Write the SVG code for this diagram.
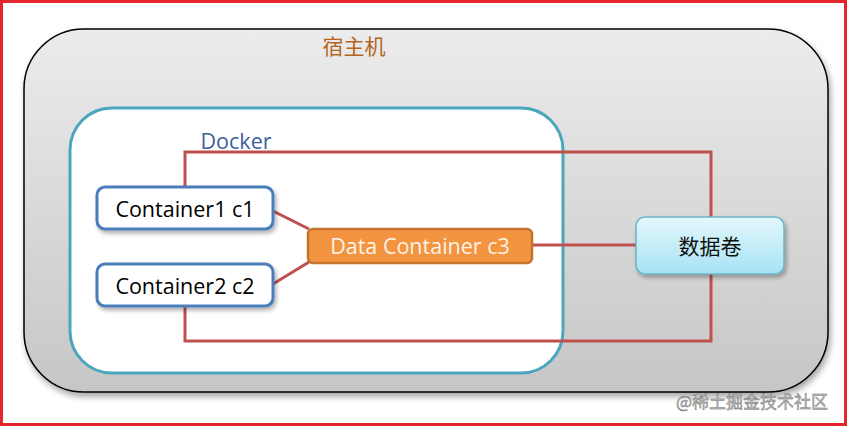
<svg xmlns="http://www.w3.org/2000/svg" width="847" height="426" viewBox="0 0 847 426">
<defs>
<linearGradient id="hostGrad" x1="0" y1="0" x2="0" y2="1">
<stop offset="0" stop-color="#ececec"/>
<stop offset="1" stop-color="#c6c6c6"/>
</linearGradient>
<linearGradient id="volGrad" x1="0" y1="0" x2="0" y2="1">
<stop offset="0" stop-color="#e4f8fc"/>
<stop offset="1" stop-color="#a6e2f3"/>
</linearGradient>
<filter id="sh" x="-20%" y="-20%" width="140%" height="150%">
<feDropShadow dx="2" dy="3" stdDeviation="2" flood-color="#000" flood-opacity="0.3"/>
</filter>
<filter id="shBig" x="-5%" y="-5%" width="110%" height="115%">
<feDropShadow dx="2" dy="4" stdDeviation="3" flood-color="#000" flood-opacity="0.35"/>
</filter>
</defs>
<style>
text{font-family:"Open Sans","Noto Sans","Noto Sans CJK SC",sans-serif;font-size:21.5px;text-anchor:middle;dominant-baseline:central}
.cn{font-family:"Noto Sans CJK SC",sans-serif;font-size:21px}
.box{fill:#fff;stroke:#4a7ebb;stroke-width:3}
.conn{fill:none;stroke:#c0504d;stroke-width:3}
</style>
<rect x="0" y="0" width="847" height="426" fill="#fff"/>
<rect x="1.5" y="1.5" width="844" height="423" fill="none" stroke="#e3262d" stroke-width="3"/>
<g id="host">
<rect x="24" y="29" width="804" height="363" rx="60" ry="60" fill="url(#hostGrad)" stroke="#000" stroke-width="1.5" filter="url(#shBig)"/>
<text class="cn" x="354" y="45" fill="#b5651d">宿主机</text>
</g>
<g id="docker">
<rect x="70" y="108" width="493" height="265" rx="42" ry="42" fill="#fff" stroke="#4aa6bd" stroke-width="3"/>
<text x="236" y="140" fill="#3c5f9b">Docker</text>
</g>
<g id="connectors">
<polyline class="conn" points="185,187 185,152 711,152 711,217"/>
<polyline class="conn" points="185,306 185,341 711,341 711,274"/>
<line class="conn" x1="273" y1="211" x2="309" y2="229"/>
<line class="conn" x1="273" y1="284" x2="309" y2="262"/>
<line class="conn" x1="532" y1="245" x2="636" y2="245" stroke-width="5"/>
</g>
<g id="c1">
<rect class="box" x="97" y="187" width="176" height="42" rx="8" filter="url(#sh)"/>
<text x="185" y="208" fill="#000">Container1 c1</text>
</g>
<g id="c2">
<rect class="box" x="97" y="264" width="176" height="42" rx="8" filter="url(#sh)"/>
<text x="185" y="285" fill="#000">Container2 c2</text>
</g>
<g id="c3">
<rect x="308" y="229" width="224" height="34" rx="5" fill="#f39440" stroke="#c4742f" stroke-width="2.5"/>
<text x="420" y="245" fill="#fdf3e6">Data Container c3</text>
</g>
<g id="volume">
<rect x="636" y="217" width="148" height="57" rx="9" fill="url(#volGrad)" stroke="#6cb4c6" stroke-width="1.5" filter="url(#sh)"/>
<text class="cn" x="710" y="245" fill="#111">数据卷</text>
</g>
<text class="cn" x="752" y="400" fill="#bdbdbd" stroke="#6d6d6d" stroke-width="0.4" style="font-size:17px">@稀土掘金技术社区</text>
</svg>
